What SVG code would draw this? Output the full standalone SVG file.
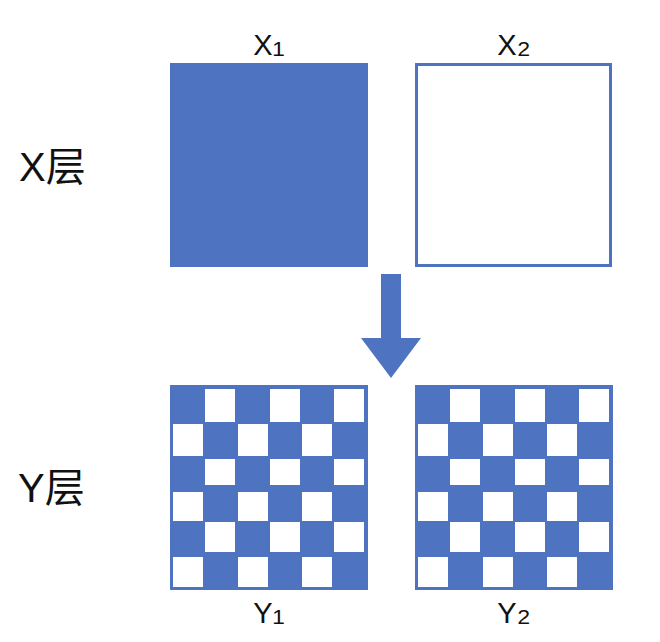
<svg xmlns="http://www.w3.org/2000/svg" xmlns:xlink="http://www.w3.org/1999/xlink" width="660" height="642" viewBox="0 0 660 642">
<style>
.lbl{font-family:"Liberation Sans","DejaVu Sans","Noto Sans CJK SC",sans-serif;fill:#111;}
.big{font-size:40px;}
.sm{font-size:29px;text-anchor:middle;}
.sub{font-size:36px;}
.blue{fill:#4e74c1;}
.w{fill:#ffffff;}
</style>
<defs>
<g id="checker">
<rect class="blue" x="170" y="385" width="198" height="205"/>
<g class="w">
<rect x="205" y="389" width="30" height="33"/><rect x="270" y="389" width="30" height="33"/><rect x="334" y="389" width="30" height="33"/>
<rect x="173" y="424" width="30" height="32"/><rect x="238" y="424" width="30" height="32"/><rect x="302" y="424" width="30" height="32"/>
<rect x="205" y="459" width="30" height="26"/><rect x="270" y="459" width="30" height="26"/><rect x="334" y="459" width="30" height="26"/>
<rect x="173" y="492" width="30" height="29"/><rect x="238" y="492" width="30" height="29"/><rect x="302" y="492" width="30" height="29"/>
<rect x="205" y="522" width="30" height="30"/><rect x="270" y="522" width="30" height="30"/><rect x="334" y="522" width="30" height="30"/>
<rect x="173" y="557" width="30" height="30"/><rect x="238" y="557" width="30" height="30"/><rect x="302" y="557" width="30" height="30"/>
</g>
</g>
</defs>
<g id="labels">
<text class="lbl big" x="19" y="181">X层</text>
<text class="lbl big" x="18" y="502">Y层</text>
</g>
<g id="X1">
<rect class="blue" x="170" y="63" width="198" height="204"/>
<text class="lbl sm" x="269" y="55">X<tspan class="sub" dy="-2">₁</tspan></text>
</g>
<g id="X2">
<rect x="416.5" y="64.5" width="194" height="201" fill="#fff" stroke="#4e74c1" stroke-width="3"/>
<text class="lbl sm" x="514" y="55">X<tspan class="sub" dy="-2">₂</tspan></text>
</g>
<g id="Y1">
<use xlink:href="#checker"/>
<text class="lbl sm" x="269" y="623">Y<tspan class="sub" dy="-2">₁</tspan></text>
</g>
<g id="Y2">
<use xlink:href="#checker" transform="translate(245,0)"/>
<text class="lbl sm" x="514" y="623">Y<tspan class="sub" dy="-2">₂</tspan></text>
</g>
<g id="connectors">
<polygon class="blue" points="381,274 401,274 401,338 421,338 391,378 361,338 381,338"/>
</g>
</svg>
